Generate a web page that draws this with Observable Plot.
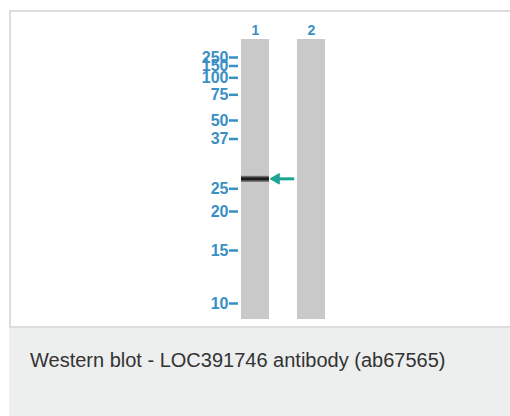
<!DOCTYPE html>
<html>
<head>
<meta charset="utf-8">
<script src="https://cdn.jsdelivr.net/npm/d3@7"></script>
<script src="https://cdn.jsdelivr.net/npm/@observablehq/plot@0.6"></script>
<style>
  html, body { margin: 0; padding: 0; background: #fff; width: 510px; height: 416px; overflow: hidden; }
  #frame { position: absolute; left: 9px; top: 10px; width: 510px; height: 314px;
           border-top: 2px solid #dddddd; border-left: 2px solid #dddddd; border-bottom: 2px solid #dddddd; }
  #chart { position: absolute; left: 0; top: 0; }
  #caption { position: absolute; left: 9px; top: 328px; width: 510px; height: 100px; background: #edeeee;
             font-family: "Liberation Sans", Arial, sans-serif; font-size: 20px; color: #333; }
  #caption span { position: absolute; left: 21px; top: 21px; white-space: nowrap; }
</style>
</head>
<body>
<div id="frame"></div>
<div id="chart"></div>
<div id="caption"><span>Western blot - LOC391746 antibody (ab67565)</span></div>
<script>
// Lanes
const lanes = [1, 2];
const laneLabels = ["1", "2"];
// Molecular weight markers (kDa)
const markerMW = [250, 150, 100, 75, 50, 37, 25, 20, 15, 10];
// Observed band(s): lane and apparent MW (kDa)
const bandLane = [1];
const bandMW = [27.4];

const bands = bandLane.map((l, i) => ({lane: l, mw: bandMW[i]}));

const blue = "#3a8fc4";
const teal = "#1aa595";
const laneHalf = 0.25;

const plot = Plot.plot({
  width: 510,
  height: 328,
  marginTop: 39,
  marginBottom: 9,
  marginLeft: 238,
  marginRight: 0,
  style: {background: "transparent", fontFamily: "'Liberation Sans', Arial, sans-serif"},
  x: {type: "linear", domain: [1, 2], range: [255, 311]},
  y: {type: "linear", domain: markerMW,
      range: [57, 65.5, 77.3, 94.3, 120, 138.5, 188.3, 211, 250, 303]},
  marks: [
    Plot.rect(lanes, {x1: d => d - laneHalf, x2: d => d + laneHalf, fill: "#c9c9c9"}),
    Plot.ruleY(bands, {y: "mw", x1: d => d.lane - laneHalf, x2: d => d.lane + laneHalf, stroke: "#555", strokeWidth: 6, strokeOpacity: 0.8}),
    Plot.ruleY(bands, {y: "mw", x1: d => d.lane - laneHalf, x2: d => d.lane + laneHalf, stroke: "#1e1e1e", strokeWidth: 3}),
    Plot.ruleY(bands, {y: "mw", x1: d => d.lane + 0.37, x2: d => d.lane + 0.70, stroke: teal, strokeWidth: 3}),
    Plot.dot(bands, {x: d => d.lane + 0.37, y: "mw", symbol: "triangle", rotate: -90, r: 3.9, fill: teal, stroke: teal, strokeWidth: 1}),
    Plot.axisY({anchor: "left", ticks: markerMW, tickFormat: d => String(d), tickSize: 9, tickPadding: 1,
                stroke: blue, strokeWidth: 2.5, fill: blue, fontSize: 16, fontWeight: "bold", label: null}),
    Plot.axisX({anchor: "top", ticks: lanes, tickFormat: (d, i) => laneLabels[i], tickSize: 0, tickPadding: 5,
                fill: blue, fontSize: 14, fontWeight: "bold", label: null})
  ]
});
document.getElementById("chart").appendChild(plot);
</script>
</body>
</html>
